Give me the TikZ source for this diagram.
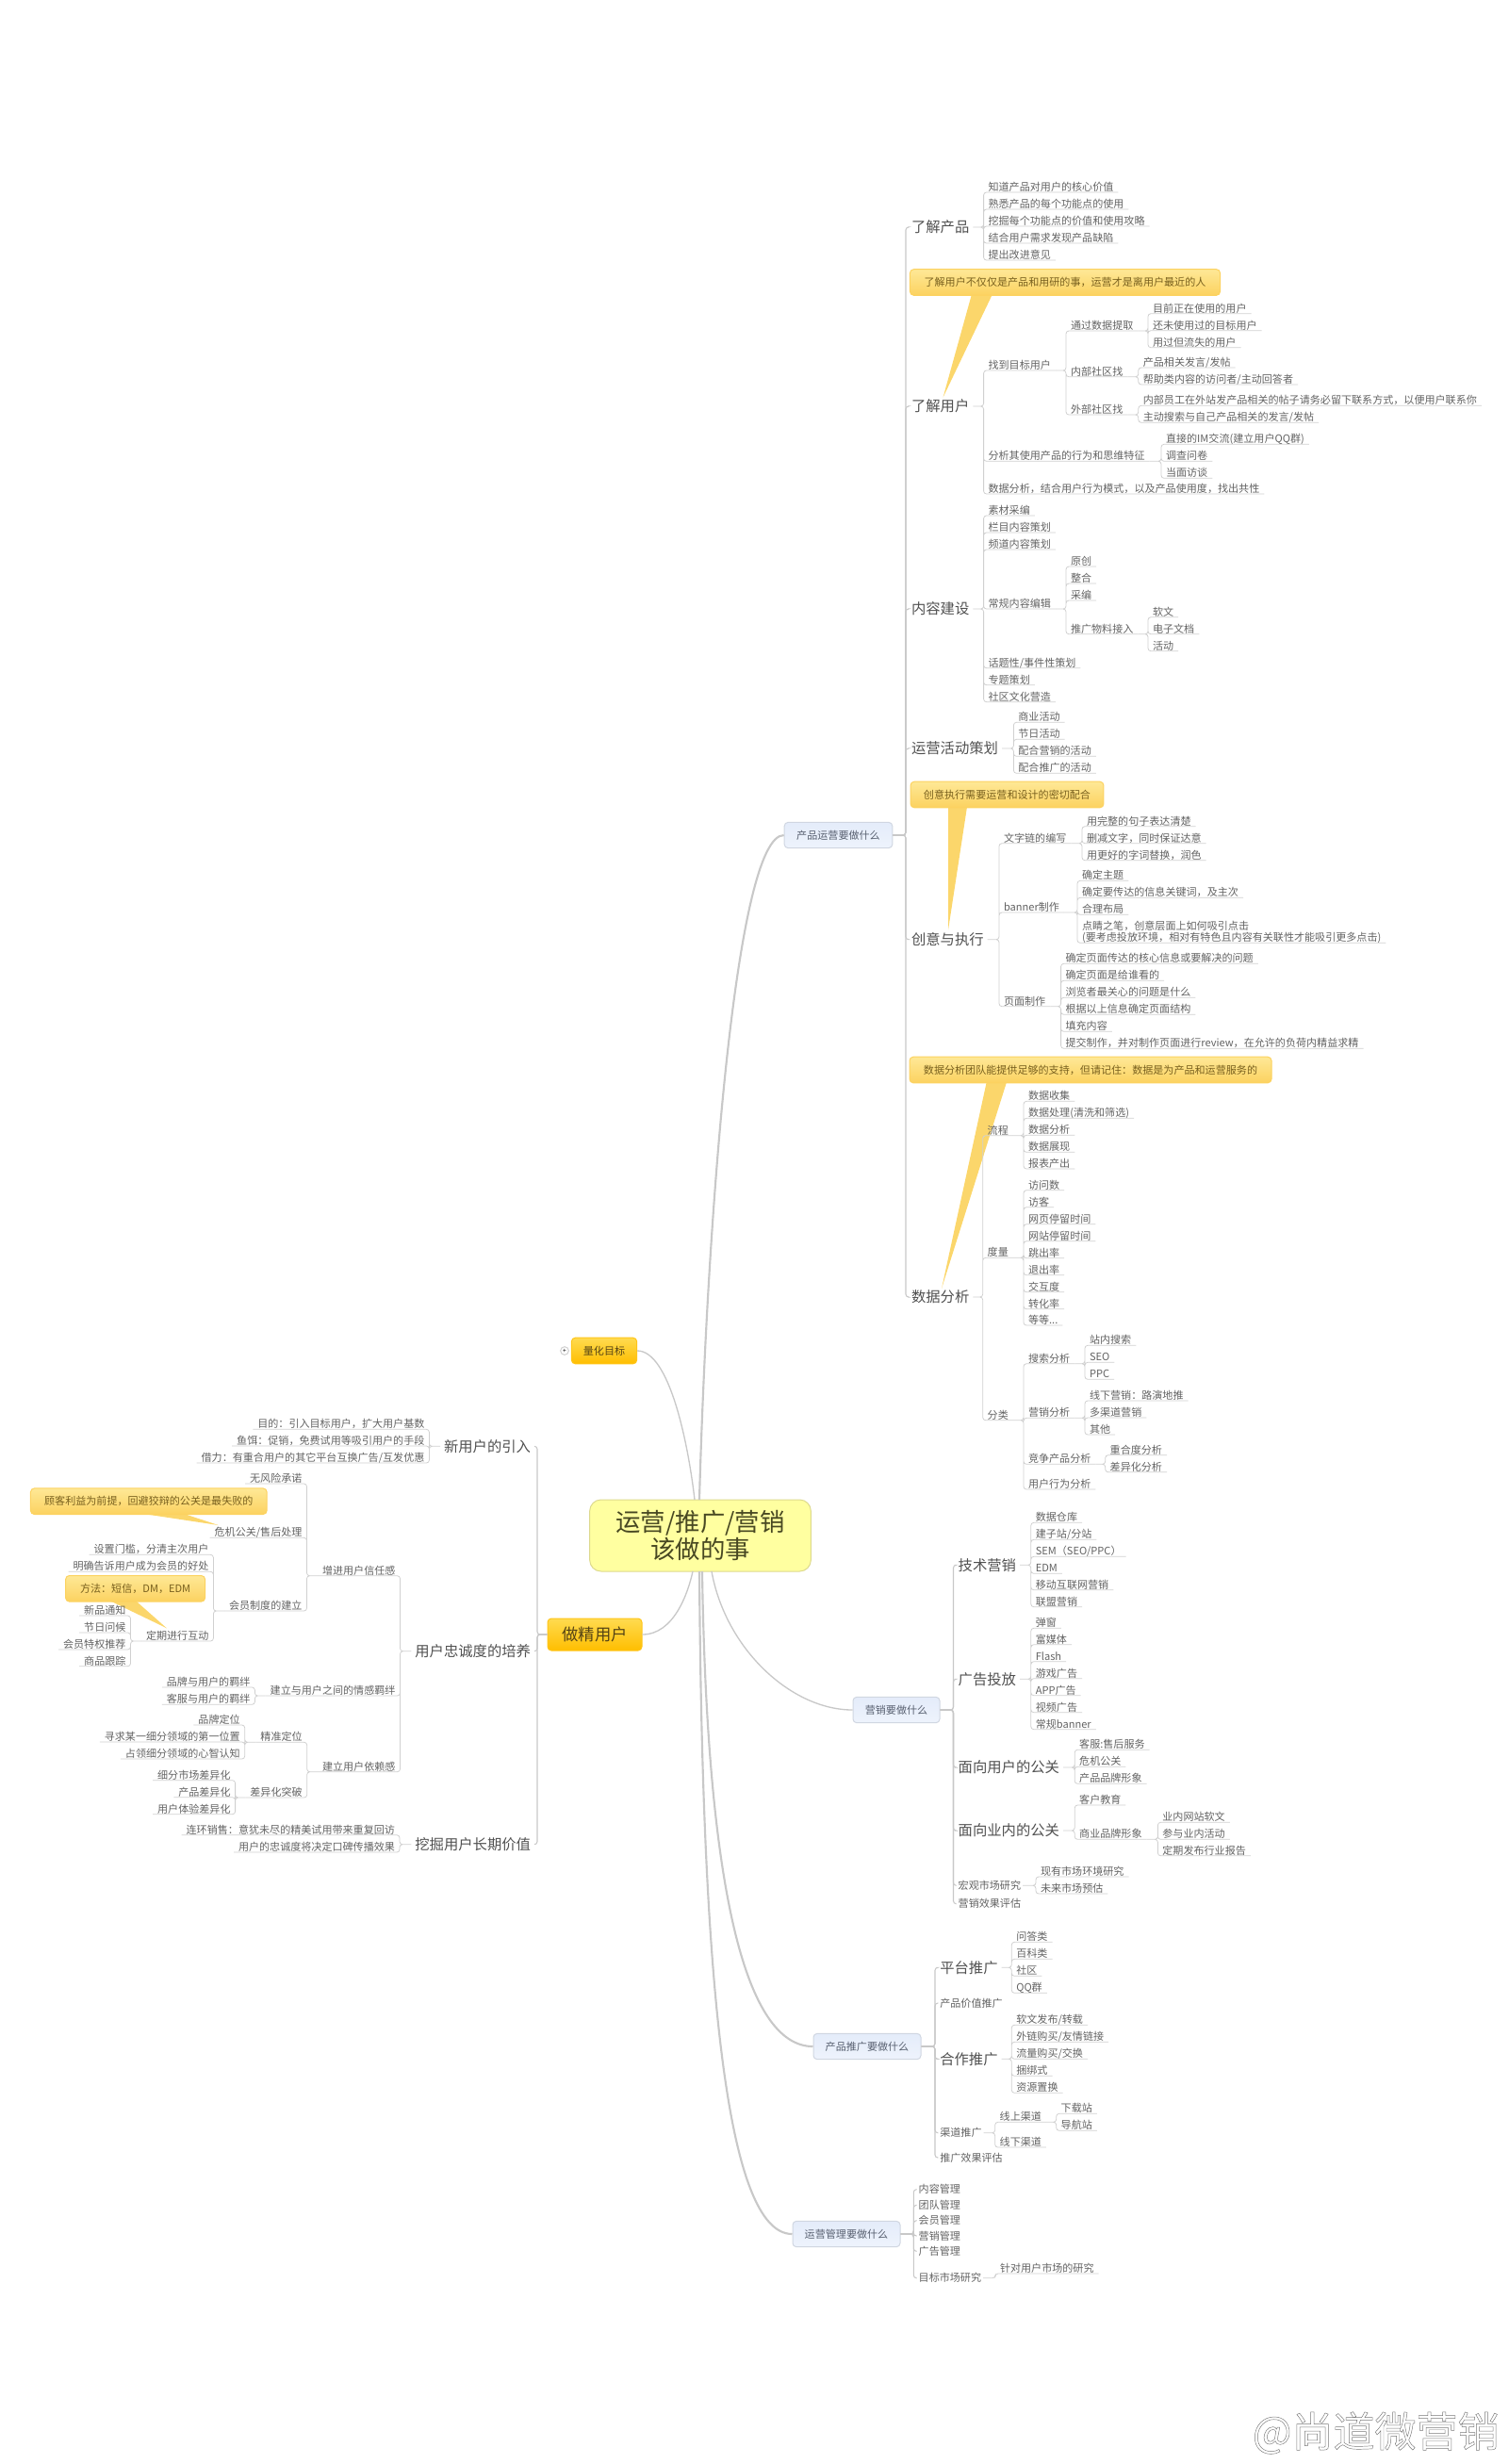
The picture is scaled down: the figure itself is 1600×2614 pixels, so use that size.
\documentclass[tikz,border=0pt]{standalone}
\usepackage{fontspec}
\setmainfont{Noto Sans CJK SC}
\definecolor{textgrey}{RGB}{98,98,98}
\definecolor{topicgrey}{RGB}{80,80,80}
\definecolor{linegrey}{RGB}{208,208,208}
\definecolor{trunkgrey}{RGB}{200,200,200}
\definecolor{notetop}{RGB}{254,232,150}
\definecolor{notebottom}{RGB}{252,210,96}
\definecolor{notetail}{RGB}{251,214,107}
\definecolor{notetext}{RGB}{120,96,30}
\definecolor{boxtop}{RGB}{255,219,80}
\definecolor{boxbottom}{RGB}{255,190,0}
\definecolor{bluetop}{RGB}{228,236,250}
\definecolor{bluebottom}{RGB}{238,243,252}
\definecolor{bluetext}{RGB}{88,96,112}
\tikzset{every picture/.style={line width=0.75pt}}
\tikzset{
  leaftext/.style={inner xsep=3.75pt,inner ysep=0pt,outer sep=0pt,text height=7.5pt,text depth=1.2pt,font=\fontsize{8.3pt}{9pt}\selectfont,text=textgrey},
  rleaf/.style={anchor=south west,leaftext},
  lleaf/.style={anchor=south east,leaftext},
  midleaf/.style={anchor=west,inner xsep=1.5pt,inner ysep=0pt,outer sep=0pt,font=\fontsize{8.3pt}{9pt}\selectfont,text=textgrey},
  topic/.style={inner xsep=3pt,inner ysep=0pt,outer sep=0pt,font=\fontsize{11.5pt}{13pt}\selectfont,text=topicgrey},
  rtopic/.style={anchor=west,topic},
  ltopic/.style={anchor=east,topic},
  link/.style={draw=linegrey,rounded corners=2.25pt,line width=0.6pt},
  trunk/.style={draw=trunkgrey,rounded corners=2.25pt,line width=0.8pt},
  curveline/.style={draw=trunkgrey,line width=1pt},
  thickcurve/.style={draw=trunkgrey,line width=1.6pt},
  rfork/.style={to path={(\tikztostart) -- (\tikztotarget.south west |- \tikztostart) |- (\tikztotarget.south east)}},
  lfork/.style={to path={(\tikztostart) -- (\tikztotarget.south east |- \tikztostart) |- (\tikztotarget.south west)}},
  note/.style={rounded corners=3pt,draw=notebottom,top color=notetop,bottom color=notebottom,text=notetext,inner sep=0pt,minimum height=20.7pt,font=\fontsize{8.3pt}{9pt}\selectfont},
  notetip/.style={fill=notetail},
  branchbox/.style={rounded corners=3pt,draw=bluetop!80!gray,top color=bluetop,bottom color=bluebottom,text=bluetext,inner sep=0pt,minimum height=20.5pt,font=\fontsize{8.3pt}{9pt}\selectfont},
  goalbox/.style={rounded corners=3pt,draw=boxbottom!90!white,top color=boxtop,bottom color=boxbottom,text=notetext!70!black,inner sep=0pt}
}
\begin{document}
\begin{tikzpicture}[x=0.75pt,y=0.75pt,yscale=-1,xscale=1]
	\useasboundingbox (0,0) rectangle (1600,2614);

	%Spine Points
	\coordinate (opsspine) at (961,886);
	\coordinate (mktspine) at (1011.5,1814);
	\coordinate (prospine) at (992,2171);
	\coordinate (mgtspine) at (969.3,2370);
	\coordinate (fansspine) at (570,1734);

	%Note Tails
	\fill [notetip] (1031,312) -- (1000.5,421.7) -- (1053,312) -- cycle ;
	\fill [notetip] (1006,856) -- (1006,986.7) -- (1026,856) -- cycle ;
	\fill [notetip] (1046.7,1148) -- (999,1367) -- (1068,1148) -- cycle ;
	\fill [notetip] (145.6,1605) -- (231.8,1618) -- (192.3,1605) -- cycle ;
	\fill [notetip] (116.2,1698) -- (176.9,1727.3) -- (143.8,1698) -- cycle ;

	% Center Node
	\draw (743,1629) node (root) [rounded corners=9pt,draw={rgb,255:red,221;green,217;blue,142},fill={rgb,255:red,255;green,255;blue,160},minimum width=176pt,minimum height=57pt,inner sep=0pt,align=center,text={rgb,255:red,72;green,72;blue,34},font=\fontsize{19.8pt}{21.3pt}\selectfont]  {运营/推广/营销\\该做的事};
	% Goal Nodes
	\draw (641,1433) node (goalnode) [goalbox,minimum width=52pt,minimum height=20.7pt,font=\fontsize{8.3pt}{9pt}\selectfont]  {量化目标};
	\draw (631,1734) node (finebox) [goalbox,minimum width=75pt,minimum height=25.5pt,font=\fontsize{13pt}{14pt}\selectfont]  {做精用户};
	\draw (599,1433) node (goalplus) [circle,draw=linegrey,inner sep=0pt,minimum size=6.5pt,text=black,font=\fontsize{5pt}{5pt}\selectfont]  {+};
	% Branch Nodes
	\draw (889.5,886) node (opsbox) [branchbox,minimum width=86pt]  {产品运营要做什么};
	\draw (951,1814) node (mktbox) [branchbox,minimum width=69pt]  {营销要做什么};
	\draw (920,2171) node (probox) [branchbox,minimum width=85.5pt]  {产品推广要做什么};
	\draw (898,2370) node (mgtbox) [branchbox,minimum width=85.5pt]  {运营管理要做什么};

	%Curve Lines
	\draw [thickcurve] (742,1591) .. controls (750,1300) and (780,886) .. (opsbox.west) ;
	\draw [curveline] (737,1591) .. controls (730,1530) and (710,1433) .. (goalnode.east) ;
	\draw [curveline] (735,1667) .. controls (730,1690) and (715,1734) .. (finebox.east) ;
	\draw [curveline] (755,1667) .. controls (770,1750) and (840,1814) .. (mktbox.west) ;
	\draw [thickcurve] (745,1667) .. controls (750,2000) and (790,2171) .. (probox.west) ;
	\draw [thickcurve] (742,1667) .. controls (745,2100) and (770,2370) .. (mgtbox.west) ;

	% Note Nodes
	\draw (1130,299.5) node (note1) [note,minimum width=246.8pt]  {了解用户不仅仅是产品和用研的事，运营才是离用户最近的人};
	\draw (1068.5,843) node (note2) [note,minimum width=153.7pt]  {创意执行需要运营和设计的密切配合};
	\draw (1157,1135) node (note3) [note,minimum width=288pt]  {数据分析团队能提供足够的支持，但请记住：数据是为产品和运营服务的};
	\draw (157.8,1592.7) node (note4) [note,minimum width=188pt]  {顾客利益为前提，回避狡辩的公关是最失败的};
	\draw (143.6,1685.3) node (note5) [note,minimum width=111pt]  {方法：短信，DM，EDM};

	% Text Node: product operation
	\draw (963,241) node (kprod) [rtopic]  {了解产品};
	\draw (963,431) node (kuser) [rtopic]  {了解用户};
	\draw (963,646) node (cont) [rtopic]  {内容建设};
	\draw (963,794) node (event) [rtopic]  {运营活动策划};
	\draw (963,996.7) node (idea) [rtopic]  {创意与执行};
	\draw (963,1376) node (data) [rtopic]  {数据分析};
	\draw (1043.6,204) node (kprod1) [rleaf]  {知道产品对用户的核心价值};
	\draw (1043.6,222) node (kprod2) [rleaf]  {熟悉产品的每个功能点的使用};
	\draw (1043.6,240) node (kprod3) [rleaf]  {挖掘每个功能点的价值和使用攻略};
	\draw (1043.6,258) node (kprod4) [rleaf]  {结合用户需求发现产品缺陷};
	\draw (1043.6,276) node (kprod5) [rleaf]  {提出改进意见};
	\draw (1043.6,393) node (kuser1) [rleaf]  {找到目标用户};
	\draw (1043.6,489.3) node (kuser2) [rleaf]  {分析其使用产品的行为和思维特征};
	\draw (1043.6,524) node (kuser3) [rleaf]  {数据分析，结合用户行为模式，以及产品使用度，找出共性};
	\draw (1131,351) node (find1) [rleaf]  {通过数据提取};
	\draw (1131,399.7) node (find2) [rleaf]  {内部社区找};
	\draw (1131,440) node (find3) [rleaf]  {外部社区找};
	\draw (1218,332.7) node (find11) [rleaf]  {目前正在使用的用户};
	\draw (1218,350.7) node (find12) [rleaf]  {还未使用过的目标用户};
	\draw (1218,368.7) node (find13) [rleaf]  {用过但流失的用户};
	\draw (1207.8,390) node (find21) [rleaf]  {产品相关发言/发帖};
	\draw (1207.8,408) node (find22) [rleaf]  {帮助类内容的访问者/主动回答者};
	\draw (1207.8,430.3) node (find31) [rleaf]  {内部员工在外站发产品相关的帖子请务必留下联系方式，以便用户联系你};
	\draw (1207.8,448.3) node (find32) [rleaf]  {主动搜索与自己产品相关的发言/发帖};
	\draw (1232,471.3) node (habit1) [rleaf]  {直接的IM交流(建立用户QQ群)};
	\draw (1232,489.3) node (habit2) [rleaf]  {调查问卷};
	\draw (1232,507.3) node (habit3) [rleaf]  {当面访谈};
	\draw (1043.6,547) node (cont1) [rleaf]  {素材采编};
	\draw (1043.6,565) node (cont2) [rleaf]  {栏目内容策划};
	\draw (1043.6,583) node (cont3) [rleaf]  {频道内容策划};
	\draw (1043.6,646) node (cont4) [rleaf]  {常规内容编辑};
	\draw (1043.6,708.7) node (cont5) [rleaf]  {话题性/事件性策划};
	\draw (1043.6,726.7) node (cont6) [rleaf]  {专题策划};
	\draw (1043.6,744.7) node (cont7) [rleaf]  {社区文化营造};
	\draw (1131,601) node (edit1) [rleaf]  {原创};
	\draw (1131,619) node (edit2) [rleaf]  {整合};
	\draw (1131,637) node (edit3) [rleaf]  {采编};
	\draw (1131,672.7) node (edit4) [rleaf]  {推广物料接入};
	\draw (1218,654.7) node (push1) [rleaf]  {软文};
	\draw (1218,672.7) node (push2) [rleaf]  {电子文档};
	\draw (1218,690.7) node (push3) [rleaf]  {活动};
	\draw (1075.4,766.3) node (event1) [rleaf]  {商业活动};
	\draw (1075.4,784.3) node (event2) [rleaf]  {节日活动};
	\draw (1075.4,802.3) node (event3) [rleaf]  {配合营销的活动};
	\draw (1075.4,820.3) node (event4) [rleaf]  {配合推广的活动};
	\draw (1060,894.7) node (idea1) [rleaf]  {文字链的编写};
	\draw (1060,968) node (idea2) [rleaf]  {banner制作};
	\draw (1060,1067.7) node (idea3) [rleaf]  {页面制作};
	\draw (1148,876.7) node (word1) [rleaf]  {用完整的句子表达清楚};
	\draw (1148,894.7) node (word2) [rleaf]  {删减文字，同时保证达意};
	\draw (1148,912.7) node (word3) [rleaf]  {用更好的字词替换，润色};
	\draw (1143,934.3) node (ban1) [rleaf]  {确定主题};
	\draw (1143,952.3) node (ban2) [rleaf]  {确定要传达的信息关键词，及主次};
	\draw (1143,970.3) node (ban3) [rleaf]  {合理布局};
	\draw (1143,1000.3) node (ban4) [rleaf,align=left,text height=16.5pt]  {点睛之笔，创意层面上如何吸引点击\\(要考虑投放环境，相对有特色且内容有关联性才能吸引更多点击)};
	\draw (1125.6,1022.3) node (page1) [rleaf]  {确定页面传达的核心信息或要解决的问题};
	\draw (1125.6,1040.3) node (page2) [rleaf]  {确定页面是给谁看的};
	\draw (1125.6,1058.3) node (page3) [rleaf]  {浏览者最关心的问题是什么};
	\draw (1125.6,1076.3) node (page4) [rleaf]  {根据以上信息确定页面结构};
	\draw (1125.6,1094.3) node (page5) [rleaf]  {填充内容};
	\draw (1125.6,1112.3) node (page6) [rleaf]  {提交制作，并对制作页面进行review，在允许的负荷内精益求精};
	\draw (1042.7,1204.7) node (data1) [rleaf]  {流程};
	\draw (1042.7,1334.3) node (data2) [rleaf]  {度量};
	\draw (1042.7,1506.7) node (data3) [rleaf]  {分类};
	\draw (1086,1168.3) node (flow1) [rleaf]  {数据收集};
	\draw (1086,1186.3) node (flow2) [rleaf]  {数据处理(清洗和筛选)};
	\draw (1086,1204.3) node (flow3) [rleaf]  {数据分析};
	\draw (1086,1222.3) node (flow4) [rleaf]  {数据展现};
	\draw (1086,1240) node (flow5) [rleaf]  {报表产出};
	\draw (1086,1262.7) node (meas1) [rleaf]  {访问数};
	\draw (1086,1280.7) node (meas2) [rleaf]  {访客};
	\draw (1086,1298.7) node (meas3) [rleaf]  {网页停留时间};
	\draw (1086,1316.7) node (meas4) [rleaf]  {网站停留时间};
	\draw (1086,1334.7) node (meas5) [rleaf]  {跳出率};
	\draw (1086,1352.7) node (meas6) [rleaf]  {退出率};
	\draw (1086,1370.7) node (meas7) [rleaf]  {交互度};
	\draw (1086,1388.7) node (meas8) [rleaf]  {转化率};
	\draw (1086,1406) node (meas9) [rleaf]  {等等...};
	\draw (1086,1446.7) node (kind1) [rleaf]  {搜索分析};
	\draw (1086,1504.3) node (kind2) [rleaf]  {营销分析};
	\draw (1086,1553.3) node (kind3) [rleaf]  {竞争产品分析};
	\draw (1086,1580) node (kind4) [rleaf]  {用户行为分析};
	\draw (1151,1427.3) node (seek1) [rleaf]  {站内搜索};
	\draw (1151,1445.3) node (seek2) [rleaf]  {SEO};
	\draw (1151,1463.3) node (seek3) [rleaf]  {PPC};
	\draw (1151,1486) node (sale1) [rleaf]  {线下营销：路演地推};
	\draw (1151,1504) node (sale2) [rleaf]  {多渠道营销};
	\draw (1151,1522) node (sale3) [rleaf]  {其他};
	\draw (1172.7,1543.7) node (rival1) [rleaf]  {重合度分析};
	\draw (1172.7,1561.7) node (rival2) [rleaf]  {差异化分析};

	% Text Node: marketing
	\draw (1012.7,1660.3) node (tech) [rtopic]  {技术营销};
	\draw (1012.7,1781.3) node (ads) [rtopic]  {广告投放};
	\draw (1012.7,1875) node (prusr) [rtopic]  {面向用户的公关};
	\draw (1012.7,1942) node (prind) [rtopic]  {面向业内的公关};
	\draw (1014.7,2000.3) node (macro) [midleaf]  {宏观市场研究};
	\draw (1014.7,2019.7) node (effect) [midleaf]  {营销效果评估};
	\draw (1093.8,1615.3) node (tech1) [rleaf]  {数据仓库};
	\draw (1093.8,1633.3) node (tech2) [rleaf]  {建子站/分站};
	\draw (1093.8,1651.3) node (tech3) [rleaf]  {SEM（SEO/PPC）};
	\draw (1093.8,1669.3) node (tech4) [rleaf]  {EDM};
	\draw (1093.8,1686.7) node (tech5) [rleaf]  {移动互联网营销};
	\draw (1093.8,1704.7) node (tech6) [rleaf]  {联盟营销};
	\draw (1093.8,1727.3) node (ads1) [rleaf]  {弹窗};
	\draw (1093.8,1744.7) node (ads2) [rleaf]  {富媒体};
	\draw (1093.8,1762.7) node (ads3) [rleaf]  {Flash};
	\draw (1093.8,1780.7) node (ads4) [rleaf]  {游戏广告};
	\draw (1093.8,1798.7) node (ads5) [rleaf]  {APP广告};
	\draw (1093.8,1816.7) node (ads6) [rleaf]  {视频广告};
	\draw (1093.8,1834.7) node (ads7) [rleaf]  {常规banner};
	\draw (1140.2,1856.3) node (prusr1) [rleaf]  {客服:售后服务};
	\draw (1140.2,1874.3) node (prusr2) [rleaf]  {危机公关};
	\draw (1140.2,1892.3) node (prusr3) [rleaf]  {产品品牌形象};
	\draw (1140.2,1915) node (prind1) [rleaf]  {客户教育};
	\draw (1140.2,1951.3) node (prind2) [rleaf]  {商业品牌形象};
	\draw (1228.4,1933.3) node (brand1) [rleaf]  {业内网站软文};
	\draw (1228.4,1951.3) node (brand2) [rleaf]  {参与业内活动};
	\draw (1228.4,1968.7) node (brand3) [rleaf]  {定期发布行业报告};
	\draw (1099,1991) node (macro1) [rleaf]  {现有市场环境研究};
	\draw (1099,2009) node (macro2) [rleaf]  {未来市场预估};

	% Text Node: promotion
	\draw (993.3,2087.3) node (plat) [rtopic]  {平台推广};
	\draw (995.3,2125) node (worth) [midleaf]  {产品价值推广};
	\draw (993.3,2184.3) node (coop) [rtopic]  {合作推广};
	\draw (995.3,2262.7) node (chan) [midleaf]  {渠道推广};
	\draw (995.3,2289) node (proeff) [midleaf]  {推广效果评估};
	\draw (1073.3,2060.3) node (plat1) [rleaf]  {问答类};
	\draw (1073.3,2078.3) node (plat2) [rleaf]  {百科类};
	\draw (1073.3,2096.3) node (plat3) [rleaf]  {社区};
	\draw (1073.3,2114.3) node (plat4) [rleaf]  {QQ群};
	\draw (1073.3,2148.3) node (coop1) [rleaf]  {软文发布/转载};
	\draw (1073.3,2166.3) node (coop2) [rleaf]  {外链购买/友情链接};
	\draw (1073.3,2184.3) node (coop3) [rleaf]  {流量购买/交换};
	\draw (1073.3,2202.3) node (coop4) [rleaf]  {捆绑式};
	\draw (1073.3,2220.3) node (coop5) [rleaf]  {资源置换};
	\draw (1055.7,2251.3) node (chan1) [rleaf]  {线上渠道};
	\draw (1055.7,2278) node (chan2) [rleaf]  {线下渠道};
	\draw (1120.7,2242.3) node (web1) [rleaf]  {下载站};
	\draw (1120.7,2260.3) node (web2) [rleaf]  {导航站};

	% Text Node: management
	\draw (972.7,2322.7) node (mgt1) [midleaf]  {内容管理};
	\draw (972.7,2339.3) node (mgt2) [midleaf]  {团队管理};
	\draw (972.7,2355.7) node (mgt3) [midleaf]  {会员管理};
	\draw (972.7,2372) node (mgt4) [midleaf]  {营销管理};
	\draw (972.7,2388.3) node (mgt5) [midleaf]  {广告管理};
	\draw (972.7,2416.7) node (mgt6) [midleaf]  {目标市场研究};
	\draw (1056,2412) node (mgt61) [rleaf]  {针对用户市场的研究};

	% Text Node: fine users
	\draw (567,1534.3) node (fresh) [ltopic]  {新用户的引入};
	\draw (567,1751.7) node (loyal) [ltopic]  {用户忠诚度的培养};
	\draw (567,1956.7) node (value) [ltopic]  {挖掘用户长期价值};
	\draw (455.4,1516.3) node (fresh1) [lleaf]  {目的：引入目标用户，扩大用户基数};
	\draw (455.4,1534) node (fresh2) [lleaf]  {鱼饵：促销，免费试用等吸引用户的手段};
	\draw (455.4,1552) node (fresh3) [lleaf]  {借力：有重合用户的其它平台互换广告/互发优惠};
	\draw (424.5,1671.7) node (loyal1) [lleaf]  {增进用户信任感};
	\draw (424.5,1799) node (loyal2) [lleaf]  {建立与用户之间的情感羁绊};
	\draw (424.5,1879.7) node (loyal3) [lleaf]  {建立用户依赖感};
	\draw (325.5,1574) node (trust1) [lleaf]  {无风险承诺};
	\draw (325.5,1631.3) node (trust2) [lleaf]  {危机公关/售后处理};
	\draw (325.5,1709) node (trust3) [lleaf]  {会员制度的建立};
	\draw (226.4,1649.3) node (vip1) [lleaf]  {设置门槛，分清主次用户};
	\draw (226.4,1667.3) node (vip2) [lleaf]  {明确告诉用户成为会员的好处};
	\draw (226.4,1741) node (vip3) [lleaf]  {定期进行互动};
	\draw (138.5,1714) node (touch1) [lleaf]  {新品通知};
	\draw (138.5,1732) node (touch2) [lleaf]  {节日问候};
	\draw (138.5,1750) node (touch3) [lleaf]  {会员特权推荐};
	\draw (138.5,1767.7) node (touch4) [lleaf]  {商品跟踪};
	\draw (270.4,1790) node (bond1) [lleaf]  {品牌与用户的羁绊};
	\draw (270.4,1808.3) node (bond2) [lleaf]  {客服与用户的羁绊};
	\draw (325.7,1848.3) node (rely1) [lleaf]  {精准定位};
	\draw (325.7,1907) node (rely2) [lleaf]  {差异化突破};
	\draw (259.7,1830) node (aim1) [lleaf]  {品牌定位};
	\draw (259.7,1848) node (aim2) [lleaf]  {寻求某一细分领域的第一位置};
	\draw (259.7,1866) node (aim3) [lleaf]  {占领细分领域的心智认知};
	\draw (249.6,1888.7) node (diff1) [lleaf]  {细分市场差异化};
	\draw (249.6,1906.7) node (diff2) [lleaf]  {产品差异化};
	\draw (249.6,1924.7) node (diff3) [lleaf]  {用户体验差异化};
	\draw (424,1946.7) node (value1) [lleaf]  {连环销售：意犹未尽的精美试用带来重复回访};
	\draw (424,1965) node (value2) [lleaf]  {用户的忠诚度将决定口碑传播效果};

	%Trunk Lines
	\draw [trunk] (opsbox.east) -- (opsspine) |- (kprod.west) ;
	\draw [trunk] (opsbox.east) -- (opsspine) |- (kuser.west) ;
	\draw [trunk] (opsbox.east) -- (opsspine) |- (cont.west) ;
	\draw [trunk] (opsbox.east) -- (opsspine) |- (event.west) ;
	\draw [trunk] (opsbox.east) -- (opsspine) |- (idea.west) ;
	\draw [trunk] (opsbox.east) -- (opsspine) |- (data.west) ;
	\draw [trunk] (mktbox.east) -- (mktspine) |- (tech.west) ;
	\draw [trunk] (mktbox.east) -- (mktspine) |- (ads.west) ;
	\draw [trunk] (mktbox.east) -- (mktspine) |- (prusr.west) ;
	\draw [trunk] (mktbox.east) -- (mktspine) |- (prind.west) ;
	\draw [trunk] (mktbox.east) -- (mktspine) |- (macro.west) ;
	\draw [trunk] (mktbox.east) -- (mktspine) |- (effect.west) ;
	\draw [trunk] (probox.east) -- (prospine) |- (plat.west) ;
	\draw [trunk] (probox.east) -- (prospine) |- (worth.west) ;
	\draw [trunk] (probox.east) -- (prospine) |- (coop.west) ;
	\draw [trunk] (probox.east) -- (prospine) |- (chan.west) ;
	\draw [trunk] (probox.east) -- (prospine) |- (proeff.west) ;
	\draw [trunk] (mgtbox.east) -- (mgtspine) |- (mgt1.west) ;
	\draw [trunk] (mgtbox.east) -- (mgtspine) |- (mgt2.west) ;
	\draw [trunk] (mgtbox.east) -- (mgtspine) |- (mgt3.west) ;
	\draw [trunk] (mgtbox.east) -- (mgtspine) |- (mgt4.west) ;
	\draw [trunk] (mgtbox.east) -- (mgtspine) |- (mgt5.west) ;
	\draw [trunk] (mgtbox.east) -- (mgtspine) |- (mgt6.west) ;
	\draw [trunk] (finebox.west) -- (fansspine) |- (fresh.east) ;
	\draw [trunk] (finebox.west) -- (fansspine) |- (loyal.east) ;
	\draw [trunk] (finebox.west) -- (fansspine) |- (value.east) ;

	%Fork Lines
	\draw [link] (kprod.east) to[rfork] (kprod1) (kprod.east) to[rfork] (kprod2) (kprod.east) to[rfork] (kprod3) (kprod.east) to[rfork] (kprod4) (kprod.east) to[rfork] (kprod5) ;
	\draw [link] (kuser.east) to[rfork] (kuser1) (kuser.east) to[rfork] (kuser2) (kuser.east) to[rfork] (kuser3) ;
	\draw [link] (kuser1.south east) to[rfork] (find1) (kuser1.south east) to[rfork] (find2) (kuser1.south east) to[rfork] (find3) ;
	\draw [link] (find1.south east) to[rfork] (find11) (find1.south east) to[rfork] (find12) (find1.south east) to[rfork] (find13) ;
	\draw [link] (find2.south east) to[rfork] (find21) (find2.south east) to[rfork] (find22) ;
	\draw [link] (find3.south east) to[rfork] (find31) (find3.south east) to[rfork] (find32) ;
	\draw [link] (kuser2.south east) to[rfork] (habit1) (kuser2.south east) to[rfork] (habit2) (kuser2.south east) to[rfork] (habit3) ;
	\draw [link] (cont.east) to[rfork] (cont1) (cont.east) to[rfork] (cont2) (cont.east) to[rfork] (cont3) (cont.east) to[rfork] (cont4) (cont.east) to[rfork] (cont5) (cont.east) to[rfork] (cont6) (cont.east) to[rfork] (cont7) ;
	\draw [link] (cont4.south east) to[rfork] (edit1) (cont4.south east) to[rfork] (edit2) (cont4.south east) to[rfork] (edit3) (cont4.south east) to[rfork] (edit4) ;
	\draw [link] (edit4.south east) to[rfork] (push1) (edit4.south east) to[rfork] (push2) (edit4.south east) to[rfork] (push3) ;
	\draw [link] (event.east) to[rfork] (event1) (event.east) to[rfork] (event2) (event.east) to[rfork] (event3) (event.east) to[rfork] (event4) ;
	\draw [link] (idea.east) to[rfork] (idea1) (idea.east) to[rfork] (idea2) (idea.east) to[rfork] (idea3) ;
	\draw [link] (idea1.south east) to[rfork] (word1) (idea1.south east) to[rfork] (word2) (idea1.south east) to[rfork] (word3) ;
	\draw [link] (idea2.south east) to[rfork] (ban1) (idea2.south east) to[rfork] (ban2) (idea2.south east) to[rfork] (ban3) (idea2.south east) to[rfork] (ban4) ;
	\draw [link] (idea3.south east) to[rfork] (page1) (idea3.south east) to[rfork] (page2) (idea3.south east) to[rfork] (page3) (idea3.south east) to[rfork] (page4) (idea3.south east) to[rfork] (page5) (idea3.south east) to[rfork] (page6) ;
	\draw [link] (data.east) to[rfork] (data1) (data.east) to[rfork] (data2) (data.east) to[rfork] (data3) ;
	\draw [link] (data1.south east) to[rfork] (flow1) (data1.south east) to[rfork] (flow2) (data1.south east) to[rfork] (flow3) (data1.south east) to[rfork] (flow4) (data1.south east) to[rfork] (flow5) ;
	\draw [link] (data2.south east) to[rfork] (meas1) (data2.south east) to[rfork] (meas2) (data2.south east) to[rfork] (meas3) (data2.south east) to[rfork] (meas4) (data2.south east) to[rfork] (meas5) (data2.south east) to[rfork] (meas6) (data2.south east) to[rfork] (meas7) (data2.south east) to[rfork] (meas8) (data2.south east) to[rfork] (meas9) ;
	\draw [link] (data3.south east) to[rfork] (kind1) (data3.south east) to[rfork] (kind2) (data3.south east) to[rfork] (kind3) (data3.south east) to[rfork] (kind4) ;
	\draw [link] (kind1.south east) to[rfork] (seek1) (kind1.south east) to[rfork] (seek2) (kind1.south east) to[rfork] (seek3) ;
	\draw [link] (kind2.south east) to[rfork] (sale1) (kind2.south east) to[rfork] (sale2) (kind2.south east) to[rfork] (sale3) ;
	\draw [link] (kind3.south east) to[rfork] (rival1) (kind3.south east) to[rfork] (rival2) ;
	\draw [link] (tech.east) to[rfork] (tech1) (tech.east) to[rfork] (tech2) (tech.east) to[rfork] (tech3) (tech.east) to[rfork] (tech4) (tech.east) to[rfork] (tech5) (tech.east) to[rfork] (tech6) ;
	\draw [link] (ads.east) to[rfork] (ads1) (ads.east) to[rfork] (ads2) (ads.east) to[rfork] (ads3) (ads.east) to[rfork] (ads4) (ads.east) to[rfork] (ads5) (ads.east) to[rfork] (ads6) (ads.east) to[rfork] (ads7) ;
	\draw [link] (prusr.east) to[rfork] (prusr1) (prusr.east) to[rfork] (prusr2) (prusr.east) to[rfork] (prusr3) ;
	\draw [link] (prind.east) to[rfork] (prind1) (prind.east) to[rfork] (prind2) ;
	\draw [link] (prind2.south east) to[rfork] (brand1) (prind2.south east) to[rfork] (brand2) (prind2.south east) to[rfork] (brand3) ;
	\draw [link] (macro.east) to[rfork] (macro1) (macro.east) to[rfork] (macro2) ;
	\draw [link] (plat.east) to[rfork] (plat1) (plat.east) to[rfork] (plat2) (plat.east) to[rfork] (plat3) (plat.east) to[rfork] (plat4) ;
	\draw [link] (coop.east) to[rfork] (coop1) (coop.east) to[rfork] (coop2) (coop.east) to[rfork] (coop3) (coop.east) to[rfork] (coop4) (coop.east) to[rfork] (coop5) ;
	\draw [link] (chan.east) to[rfork] (chan1) (chan.east) to[rfork] (chan2) ;
	\draw [link] (chan1.south east) to[rfork] (web1) (chan1.south east) to[rfork] (web2) ;
	\draw [link] (mgt6.east) to[rfork] (mgt61) ;
	\draw [link] (fresh.west) to[lfork] (fresh1) (fresh.west) to[lfork] (fresh2) (fresh.west) to[lfork] (fresh3) ;
	\draw [link] (loyal.west) to[lfork] (loyal1) (loyal.west) to[lfork] (loyal2) (loyal.west) to[lfork] (loyal3) ;
	\draw [link] (loyal1.south west) to[lfork] (trust1) (loyal1.south west) to[lfork] (trust2) (loyal1.south west) to[lfork] (trust3) ;
	\draw [link] (trust3.south west) to[lfork] (vip1) (trust3.south west) to[lfork] (vip2) (trust3.south west) to[lfork] (vip3) ;
	\draw [link] (vip3.south west) to[lfork] (touch1) (vip3.south west) to[lfork] (touch2) (vip3.south west) to[lfork] (touch3) (vip3.south west) to[lfork] (touch4) ;
	\draw [link] (loyal2.south west) to[lfork] (bond1) (loyal2.south west) to[lfork] (bond2) ;
	\draw [link] (loyal3.south west) to[lfork] (rely1) (loyal3.south west) to[lfork] (rely2) ;
	\draw [link] (rely1.south west) to[lfork] (aim1) (rely1.south west) to[lfork] (aim2) (rely1.south west) to[lfork] (aim3) ;
	\draw [link] (rely2.south west) to[lfork] (diff1) (rely2.south west) to[lfork] (diff2) (rely2.south west) to[lfork] (diff3) ;
	\draw [link] (value.west) to[lfork] (value1) (value.west) to[lfork] (value2) ;

	% Text Node: mark
	\draw (1591,2581) node (stamp) [anchor=east,inner sep=0pt,text={rgb,255:red,120;green,120;blue,120},font=\fontsize{33pt}{34pt}\selectfont]  {\special{pdf:code 1 Tr 0.35 w}@尚道微营销\special{pdf:code 0 Tr}};

\end{tikzpicture}
\end{document}
